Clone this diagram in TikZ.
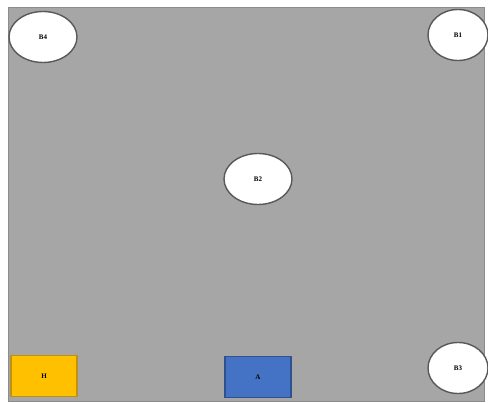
\documentclass[tikz,border=0pt]{standalone}
\usepackage{fontspec}
\setmainfont{Liberation Serif}
\usetikzlibrary{shapes.geometric}

\begin{document}
\begin{tikzpicture}[
        x=1pt, y=-1pt,
        field/.style={fill=black!35, draw=black!45, line width=.6pt},
        base/.style={ellipse, draw=black!65, line width=1.4pt, fill=white,
            minimum width=68pt, minimum height=51pt, inner sep=0pt,
            font=\scriptsize\bfseries},
        tag/.style={rectangle, line width=1.2pt, minimum width=66pt,
            minimum height=41pt, inner sep=0pt, font=\scriptsize\bfseries},
    ]
    \useasboundingbox (0, 0) rectangle (488, 403);

    %% the grey field
    \draw[field] (8, 7) rectangle (484, 401);

    %% the four stations
    \node[base] (b4) at (43, 37) {B4};
    \node[base, minimum width=60pt] (b1) at (458, 35) {B1};
    \node[base] (b2) at (258, 179) {B2};
    \node[base, minimum width=60pt] (b3) at (458, 368) {B3};

    %% the two boxes along the bottom
    \node[tag, fill={rgb,255:red,255;green,192;blue,0}, draw={rgb,255:red,190;green,145;blue,20}]
        (h) at (44, 376) {H};
    \node[tag, fill={rgb,255:red,68;green,114;blue,196}, draw={rgb,255:red,47;green,82;blue,143}]
        (a) at (258, 377) {A};
\end{tikzpicture}
\end{document}
